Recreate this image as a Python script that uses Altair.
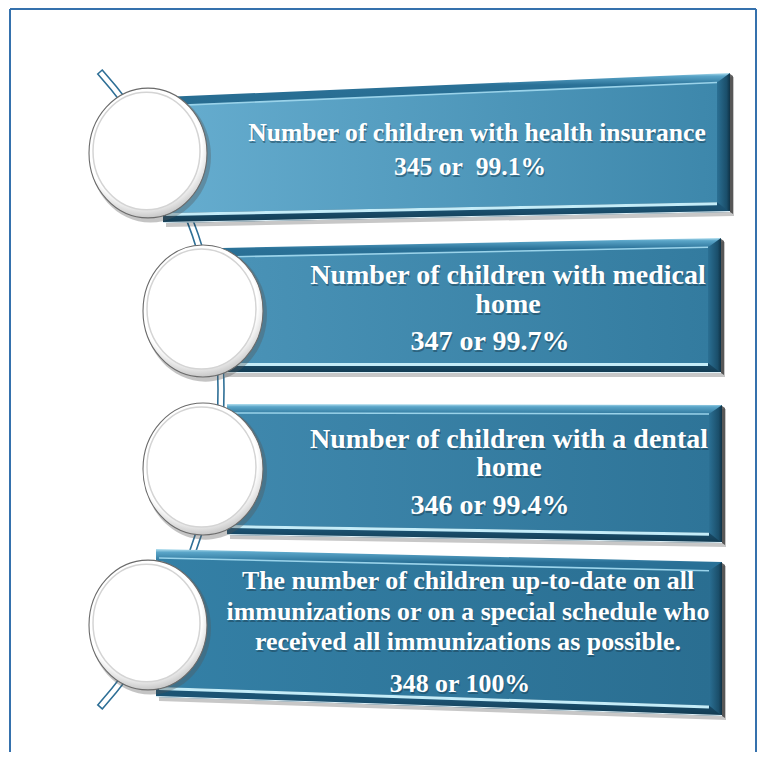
import altair as alt
import pandas as pd

# ---------------- content ----------------
title_lines = [
    ["Number of children with health insurance"],
    ["Number of children with medical", "home"],
    ["Number of children with a dental", "home"],
    ["The number of children up-to-date on all",
     "immunizations or on a special schedule who",
     "received all immunizations as possible."],
]
counts = [345, 347, 346, 348]
percents = ["99.1%", "99.7%", "99.4%", "100%"]
joiners = [" or\u00a0 ", " or ", " or ", " or "]

# ---------------- layout (page pixels) ----------------
banner_x = [(163, 730), (222, 721), (227, 722), (156, 722)]
banner_top = [(97, 73), (248, 238), (404, 405), (549, 562)]
banner_bot = [(223, 212), (373, 373), (535, 543), (697, 716)]
face_colors = [("#66adcf", "#3d87ab"), ("#4a93b7", "#337b9f"),
               ("#3f88ad", "#2e7498"), ("#3480a6", "#2a6e91")]
circle_c = [(148, 153), (203, 311), (203, 469), (148, 625)]
circle_rx = [59, 60, 60, 59]
text_cx = [477, 508, 509, 468]
value_cx = [470, 490, 490, 460]
line_y = [[133], [276, 305], [440, 468], [581, 612, 642]]
value_y = [167, 342, 506, 684]
font_size = [25.6, 28, 28, 25.9]

PAGE_W = 757
PAGE_H = 752
XS = alt.Scale(domain=[8, PAGE_W], nice=False, zero=False)
YS = alt.Scale(domain=[8, PAGE_H], nice=False, zero=False, reverse=True)
ELLIPSE = "M -1 0 A 1 1.1 0 1 1 1 0 A 1 1.1 0 1 1 -1 0 Z"


def X(f="x"):
    return alt.X(f"{f}:Q", scale=XS, axis=None)


def Y(f="y"):
    return alt.Y(f"{f}:Q", scale=YS, axis=None)


def lerp(a, b, t):
    return a + (b - a) * t


def edge(i, x, which):
    xl, xr = banner_x[i]
    t = (x - xl) / (xr - xl)
    pair = banner_top[i] if which == "top" else banner_bot[i]
    return lerp(pair[0], pair[1], t)


def grad(stops, horizontal=True):
    return alt.LinearGradient(
        gradient="linear",
        stops=[alt.GradientStop(color=c, offset=o) for o, c in stops],
        x1=0, y1=0, x2=1 if horizontal else 0, y2=0 if horizontal else 1)


def area(rows, **mark):
    df = pd.DataFrame(rows, columns=["x", "y", "y2"])
    return alt.Chart(df).mark_area(**mark).encode(x=X(), y=Y(), y2=alt.Y2("y2:Q"))


def line(rows, **mark):
    df = pd.DataFrame(rows, columns=["x", "y"])
    return alt.Chart(df).mark_line(**mark).encode(x=X(), y=Y())


layers = []

# frame border
border = pd.DataFrame({"x": [10, 10, PAGE_W - 1], "y": [9, 9, 9],
                       "x2": [PAGE_W - 1, 10, PAGE_W - 1], "y2": [9, PAGE_H, PAGE_H]})
layers.append(alt.Chart(border).mark_rule(color="#3571ad", strokeWidth=2).encode(
    x=X(), y=Y(), x2="x2:Q", y2="y2:Q"))

# connector arc (double line)
arc_df = pd.DataFrame({"x": [-256], "y": [389.5]})
layers.append(alt.Chart(arc_df).mark_arc(fill="white", stroke="#2e6f96", strokeWidth=1.6).encode(
    x=X(), y=Y(), theta=alt.value(0.8425), theta2=alt.value(2.299),
    radius=alt.value(480), radius2=alt.value(474)))

# banners
for i in range(4):
    xl, xr = banner_x[i]
    (tl, tr), (bl, br) = banner_top[i], banner_bot[i]
    layers.append(area([(xl + 3, tl + 4, bl + 4), (xr + 4, tr + 4, br + 4)],
                       color="#000000", opacity=0.22))
    layers.append(area([(xl, tl, bl), (xr, tr, br)], color=grad([
        (0, "#b3e0f0"), (0.02, "#5aa5c8"), (0.08, "#2a7197"), (0.5, "#215f80"),
        (0.9, "#1b5272"), (1, "#123a50")], horizontal=False)))
    fx0, fx1 = xl + 3, xr - 13
    layers.append(area([(fx1, edge(i, fx1, "top") + 9, edge(i, fx1, "bot") - 10),
                        (xr, tr, br)],
                       color=grad([(0, "#2b7094"), (0.75, "#1a4e6a"), (1, "#0f3246")])))
    layers.append(area([(xr, tr + 1, br), (xr + 3, tr + 3, br + 2)], color="#3b3b3b", opacity=0.8))
    c0, c1 = face_colors[i]
    layers.append(area([(fx0, edge(i, fx0, "top") + 9, edge(i, fx0, "bot") - 10),
                        (fx1, edge(i, fx1, "top") + 9, edge(i, fx1, "bot") - 10)],
                       color=grad([(0, c0), (1, c1)])))
    layers.append(line([(fx0, edge(i, fx0, "top") + 9), (fx1, edge(i, fx1, "top") + 9)],
                       color="#9ad3ea", strokeWidth=1.6))
    layers.append(line([(fx0, edge(i, fx0, "bot") - 8.5), (fx1, edge(i, fx1, "bot") - 8.5)],
                       color="#c4ecf8", strokeWidth=3))
    layers.append(line([(xl, bl - 0.5), (xr, br - 0.5)], color="#dff1f8", strokeWidth=1))

# circles
cdf = pd.DataFrame({
    "x": [c[0] for c in circle_c],
    "y": [c[1] for c in circle_c],
    "s": [(2 * r) ** 2 for r in circle_rx],
})
sh = cdf.assign(x=cdf.x + 2.5, y=cdf.y + 3, s=[(2 * r + 3) ** 2 for r in circle_rx])
layers.append(alt.Chart(sh).mark_point(shape=ELLIPSE, filled=True, fill="#555555",
                                       opacity=0.35, strokeWidth=0).encode(
    x=X(), y=Y(), size=alt.Size("s:Q", scale=None)))
rim = alt.RadialGradient(gradient="radial",
                         stops=[alt.GradientStop(color="#ffffff", offset=0),
                                alt.GradientStop(color="#ffffff", offset=0.8),
                                alt.GradientStop(color="#c2c2c2", offset=1)],
                         x1=0.45, y1=0.42, r1=0, x2=0.47, y2=0.45, r2=0.56)
layers.append(alt.Chart(cdf).mark_point(shape=ELLIPSE, filled=True, fill=rim, stroke="#6b6b6b",
                                        strokeWidth=1.1, opacity=1).encode(
    x=X(), y=Y(), size=alt.Size("s:Q", scale=None)))
inner = cdf.assign(x=cdf.x - 1.5, y=cdf.y - 2, s=[(2 * r - 11) ** 2 for r in circle_rx])
layers.append(alt.Chart(inner).mark_point(shape=ELLIPSE, filled=True, fill="#ffffff",
                                          stroke="#d4d4d4", strokeWidth=1.5, opacity=1).encode(
    x=X(), y=Y(), size=alt.Size("s:Q", scale=None)))

# texts
rows = []
for i in range(4):
    for ln, yy in zip(title_lines[i], line_y[i]):
        rows.append({"x": text_cx[i], "y": yy, "t": ln, "fs": font_size[i]})
    rows.append({"x": value_cx[i], "y": value_y[i],
                 "t": f"{counts[i]}{joiners[i]}{percents[i]}", "fs": font_size[i]})
tdf = pd.DataFrame(rows)
layers.append(alt.Chart(tdf).mark_text(font="Liberation Serif", fontWeight="bold",
                                       color="#1a3f52", baseline="middle", align="center",
                                       dx=1, dy=1.5, opacity=0.5).encode(
    x=X(), y=Y(), text="t:N", size=alt.Size("fs:Q", scale=None)))
layers.append(alt.Chart(tdf).mark_text(font="Liberation Serif", fontWeight="bold",
                                       color="#ffffff", baseline="middle", align="center").encode(
    x=X(), y=Y(), text="t:N", size=alt.Size("fs:Q", scale=None)))

chart = alt.layer(*layers).properties(
    width=PAGE_W - 8, height=PAGE_H - 8, padding=0,
    autosize=alt.AutoSizeParams(type="none"),
    background="white",
).configure_view(stroke=None)

chart.save("out.html", embed_options={"renderer": "svg", "actions": False})
